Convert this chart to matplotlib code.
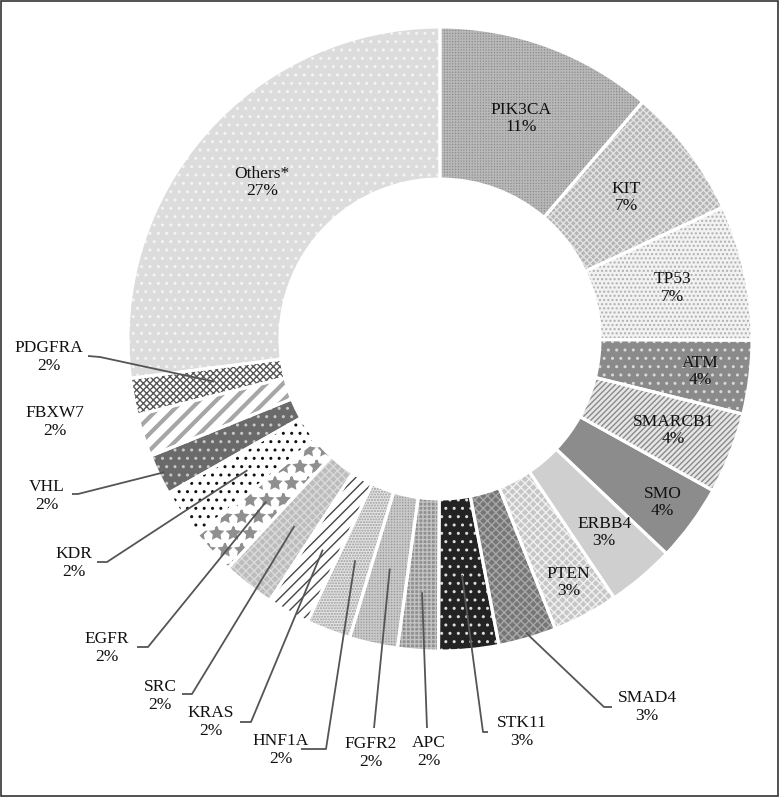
import matplotlib
matplotlib.use("Agg")
import matplotlib.pyplot as plt
import numpy as np

plt.rcParams['font.family'] = ['Liberation Serif', 'DejaVu Serif']
plt.rcParams['hatch.linewidth'] = 1.0

# data (the shown percentages are rounded)
genes = ["PIK3CA", "KIT", "TP53", "ATM", "SMARCB1", "SMO", "ERBB4", "PTEN",
         "SMAD4", "STK11", "APC", "FGFR2", "HNF1A", "KRAS", "SRC", "EGFR",
         "KDR", "VHL", "FBXW7", "PDGFRA", "Others*"]
shares = [11.25, 6.8, 7.0, 3.8, 4.2, 4.0, 3.5, 3.4, 3.0, 3.1, 2.1, 2.5,
          2.3, 2.2, 2.7, 2.3, 2.6, 2.1, 2.2, 1.9, 27.0]
shown_pct = [11, 7, 7, 4, 4, 4, 3, 3, 3, 3, 2, 2, 2, 2, 2, 2, 2, 2, 2, 2, 27]

# grayscale fills and patterns
fills = ["#8e8e8e", "#b4b4b4", "#f2f2f2", "#8a8a8a", "#e6e6e6", "#8c8c8c",
         "#cfcfcf", "#c6c6c6", "#767676", "#232323", "#8f8f8f", "#9a9a9a",
         "#e4e4e4", "#ffffff", "#bcbcbc", "#ffffff", "#ffffff", "#6a6a6a",
         "#ffffff", "#ffffff", "#dcdcdc"]
hatches = ["++++++", "xxxxx", "....", "..", "//////", "", "", "xxxx",
           "xxxx", "..", "++++", "++++++", "......", "///", "xxxx", "*",
           "..", "..", "//", "xxxxx", ".."]
hatch_cols = ["#b8b8b8", "#e2e2e2", "#b0b0b0", "#d8d8d8", "#8a8a8a", "none", "none", "#f0f0f0",
              "#a8a8a8", "#dddddd", "#c2c2c2", "#c8c8c8", "#9c9c9c", "#444444", "#dadada", "#8f8f8f",
              "#111111", "#c8c8c8", "#a6a6a6", "#555555", "#f4f4f4"]
hatch_lw = {"FBXW7": 3.0, "EGFR": 1.6, "KRAS": 1.0}

W, H = 779, 797
cx, cy = 440, H - 339
R, ring = 312, 152

fig = plt.figure(figsize=(W / 100, H / 100), dpi=100)
ax = fig.add_axes([0, 0, 1, 1])

pie_kw = dict(startangle=90, counterclock=False, center=(cx, cy), radius=R)
wedges, _ = ax.pie(shares, colors=fills,
                   wedgeprops=dict(width=ring, linewidth=0), **pie_kw)
hw, _ = ax.pie(shares, colors=["none"] * len(shares), hatch=hatches,
               wedgeprops=dict(width=ring, linewidth=0), **pie_kw)
for w, hc, g in zip(hw, hatch_cols, genes):
    w.set_edgecolor(hc)
    if g in hatch_lw and hasattr(w, "set_hatch_linewidth"):
        w.set_hatch_linewidth(hatch_lw[g])
ax.pie(shares, colors=["none"] * len(shares),
       wedgeprops=dict(width=ring, linewidth=2.2, edgecolor="white"), **pie_kw)

ax.set_xlim(0, W)
ax.set_ylim(0, H)
ax.set_aspect('equal')
ax.axis('off')


def polar(w, r):
    a = np.deg2rad((w.theta1 + w.theta2) / 2)
    return cx + r * np.cos(a), cy + r * np.sin(a)


txt = dict(fontsize=12.5, color="#111111", ha="center", va="center", linespacing=1.1)

# labels placed inside the ring (radius in px)
inside_r = {"PIK3CA": 235, "KIT": 234, "TP53": 238, "ATM": 262, "SMARCB1": 251,
            "SMO": 276, "ERBB4": 254, "PTEN": 275, "Others*": 237}
# labels outside: text centre, leader points (from the label), anchor radius
outside = {
    "PDGFRA": ((49, 357), [(88, 356), (100, 357)], 230),
    "FBXW7": ((55, 422), [], None),
    "VHL": ((47, 496), [(72, 494), (78, 494)], 306),
    "KDR": ((74, 563), [(97, 562), (107, 562)], 233),
    "EGFR": ((107, 648), [(137, 647), (148, 647)], 238),
    "SRC": ((160, 696), [(182, 694), (192, 694)], 237),
    "KRAS": ((211, 722), [(240, 722), (251, 722)], 241),
    "HNF1A": ((281, 750), [(301, 749), (326, 749)], 237),
    "FGFR2": ((371, 753), [(374, 728)], 235),
    "APC": ((429, 752), [(427, 728)], 254),
    "STK11": ((522, 732), [(488, 732), (483, 732)], 237),
    "SMAD4": ((647, 707), [(612, 707), (604, 707)], 306),
}

for w, g, p in zip(wedges, genes, shown_pct):
    label = f"{g}\n{p}%"
    if g in inside_r:
        x, y = polar(w, inside_r[g])
        ax.text(x, y, label, **txt)
    else:
        (tx, ty), pts, r_anchor = outside[g]
        ax.text(tx, H - ty, label, **txt)
        if pts:
            xs = [q[0] for q in pts]
            ys = [H - q[1] for q in pts]
            axx, ayy = polar(w, r_anchor)
            ax.plot(xs + [axx], ys + [ayy], color="#555555", lw=1.3,
                    solid_capstyle="butt")

# thin frame around the picture
fig.patches.append(plt.Rectangle((0.001, 0.001), 0.998, 0.998, transform=fig.transFigure,
                                 fill=False, edgecolor="#333333", linewidth=1.2))

fig.savefig("out.png", dpi=100)
